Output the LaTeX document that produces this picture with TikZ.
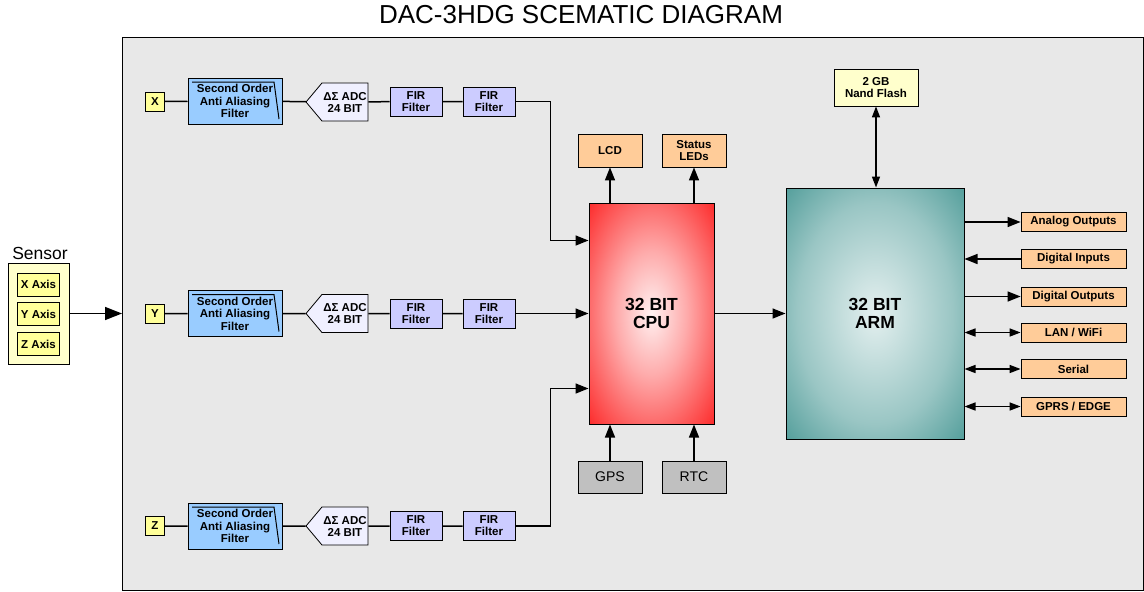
\documentclass[tikz,border=0pt]{standalone}
\usepackage{fontspec}
\setmainfont{Liberation Sans}
\usetikzlibrary{calc,positioning,arrows.meta,shapes.symbols}
\definecolor{boardc}{RGB}{232,232,232}
\definecolor{axisc}{RGB}{255,255,153}
\definecolor{sensc}{RGB}{255,255,204}
\definecolor{aafc}{RGB}{153,204,255}
\definecolor{firc}{RGB}{204,204,255}
\definecolor{adcc}{RGB}{240,240,255}
\definecolor{ioc}{RGB}{255,204,153}
\definecolor{auxc}{RGB}{192,192,192}
\definecolor{cpuc}{RGB}{252,16,16}
\definecolor{armc}{RGB}{30,128,124}
\pgfdeclareradialshading{cpuglow}{\pgfpoint{0bp}{0bp}}{color(0bp)=(cpuc!6!white); color(14bp)=(cpuc!35!white); color(40bp)=(cpuc); color(80bp)=(cpuc)}
\pgfdeclareradialshading{armglow}{\pgfpoint{0bp}{0bp}}{color(0bp)=(armc!12!white); color(22bp)=(armc!45!white); color(46bp)=(armc); color(80bp)=(armc!90!black)}
\tikzset{
  lbl/.style={font=\bfseries\fontsize{11.5}{12}\selectfont,align=center,inner sep=0pt},
  tag/.style={lbl,draw,fill=axisc,line width=0.8pt,minimum width=19pt,minimum height=19pt},
  sensbox/.style={draw,fill=sensc,line width=0.8pt,minimum width=61pt,minimum height=101pt},
  aaf/.style={lbl,draw,fill=aafc,line width=1pt,minimum width=94pt,minimum height=46pt,
    font=\bfseries\fontsize{11.5}{12.5}\selectfont,
    path picture={\draw[line width=1pt]
      ([shift={(4pt,-4pt)}]path picture bounding box.north west)
      -- ([shift={(-8pt,-4pt)}]path picture bounding box.north east)
      -- ([shift={(-3pt,5pt)}]path picture bounding box.south east);}},
  adc/.style={lbl,draw,fill=adcc,line width=0.8pt,signal,signal to=west,signal pointer angle=100,
    minimum width=62pt,minimum height=38pt},
  fir/.style={lbl,draw,fill=firc,line width=0.8pt,minimum width=52pt,minimum height=29pt},
  io/.style={lbl,draw,fill=ioc,line width=0.8pt,minimum width=105pt,minimum height=19pt},
  periph/.style={lbl,draw,fill=ioc,line width=0.8pt,minimum width=64pt,minimum height=33pt},
  aux/.style={draw,fill=auxc,line width=0.8pt,minimum width=64pt,minimum height=32pt,font=\fontsize{14}{16}\selectfont},
  flash/.style={lbl,draw,fill=sensc,line width=0.8pt,minimum width=84pt,minimum height=37pt},
  chip/.style={draw,line width=1pt,shade,align=center,inner sep=0pt,font=\bfseries\fontsize{17.5}{18}\selectfont},
  board/.style={draw,fill=boardc,line width=1pt,anchor=north west,inner sep=0pt,minimum width=1021pt,minimum height=553pt},
  link/.style={line width=1.5pt},
  flow/.style={-{Triangle[length=13pt,width=10pt]},line width=1.5pt},
  both/.style={{Triangle[length=11pt,width=8pt]}-{Triangle[length=11pt,width=8pt]},line width=1.5pt},
}
\begin{document}
\begin{tikzpicture}[x=1pt,y=-1pt]
  \useasboundingbox (0,0) rectangle (1144,592);
  % board outline and heading
  \node[board] (board) at (122,37) {};
  \node[font=\fontsize{26}{28}\selectfont] (title) at (581,15) {DAC-3HDG SCEMATIC DIAGRAM};
  % sensor with its three axes
  \node[font=\fontsize{17.5}{18}\selectfont] (senslbl) at (40,253) {Sensor};
  \node[sensbox] (sens) at (38.5,313.5) {};
  \node[tag,minimum width=42pt,minimum height=23pt] (xax) at (38.5,284.5) {X Axis};
  \node[tag,minimum width=42pt,minimum height=23pt] (yax) at (38.5,314) {Y Axis};
  \node[tag,minimum width=42pt,minimum height=23pt] (zax) at (38.5,344) {Z Axis};
  \draw[-{Triangle[length=17pt,width=13pt]},line width=1.5pt] (sens) -- (sens -| board.west);
  % X channel
  \node[tag] (tx) at (155,101.5) {X}; \node[aaf] (fx) at (235,101) {Second Order\\Anti Aliasing\\Filter};
  \node[adc] (ax) at (345,102) {ΔΣ ADC\\24 BIT};
  \node[fir] (f1x) at (416,101.5) {FIR\\Filter}; \node[fir] (f2x) at (489,101.5) {FIR\\Filter};
  % Y channel
  \node[tag] (ty) at (155,313.5) {Y}; \node[aaf] (fy) at (235,313.5) {Second Order\\Anti Aliasing\\Filter};
  \node[adc] (ay) at (345,313.5) {ΔΣ ADC\\24 BIT};
  \node[fir] (f1y) at (416,313.5) {FIR\\Filter}; \node[fir] (f2y) at (489,313.5) {FIR\\Filter};
  % Z channel
  \node[tag] (tz) at (155,526) {Z}; \node[aaf] (fz) at (235,526) {Second Order\\Anti Aliasing\\Filter};
  \node[adc] (az) at (345,526) {ΔΣ ADC\\24 BIT};
  \node[fir] (f1z) at (416,526) {FIR\\Filter}; \node[fir] (f2z) at (489,526) {FIR\\Filter};
  \draw[link] (tx) -- (fx) -- (ax) -- (f1x) -- (f2x);
  \draw[link] (ty) -- (fy) -- (ay) -- (f1y) -- (f2y);
  \draw[link] (tz) -- (fz) -- (az) -- (f1z) -- (f2z);
  % processors
  \node[chip,shading=cpuglow,minimum width=125pt,minimum height=221pt] (cpu) at (651.5,313.5) {32 BIT\\CPU};
  \node[chip,shading=armglow,minimum width=178pt,minimum height=251pt] (arm) at (875,313.5) {32 BIT\\ARM};
  \draw[flow] (f2x.east) -- ++(35,0) |- ([yshift=73pt]cpu.west);
  \draw[flow] (f2y) -- (cpu);
  \draw[flow] (f2z.east) -- ++(35,0) |- ([yshift=-75pt]cpu.west);
  \draw[flow] (cpu) -- (arm);
  % CPU peripherals
  \node[periph] (lcd) at (610,150.5) {LCD}; \node[periph] (leds) at (694,150.5) {Status\\LEDs};
  \node[aux] (gps) at (610,477) {GPS}; \node[aux] (rtc) at (694,477) {RTC};
  \draw[flow] (cpu.north -| lcd) -- (lcd); \draw[flow] (cpu.north -| leds) -- (leds);
  \draw[flow] (gps) -- (gps |- cpu.south); \draw[flow] (rtc) -- (rtc |- cpu.south);
  % ARM storage and I/O
  \node[flash] (nand) at (876,87.5) {2 GB\\Nand Flash};
  \draw[both] (arm.north -| nand) -- (nand);
  \node[io] (aout) at (1073.5,222) {Analog Outputs};
  \node[io] (din) at (1073.5,259) {Digital Inputs};
  \node[io] (dout) at (1073.5,296.5) {Digital Outputs};
  \node[io] (lan) at (1073.5,332.5) {LAN / WiFi};
  \node[io] (ser) at (1073.5,369) {Serial};
  \node[io] (gprs) at (1073.5,406.5) {GPRS / EDGE};
  \draw[flow] (arm.east |- aout) -- (aout);
  \draw[flow] (din) -- (arm.east |- din);
  \draw[flow] (arm.east |- dout) -- (dout);
  \draw[both] (arm.east |- lan) -- (lan);
  \draw[both] (arm.east |- ser) -- (ser);
  \draw[both] (arm.east |- gprs) -- (gprs);
\end{tikzpicture}
\end{document}
